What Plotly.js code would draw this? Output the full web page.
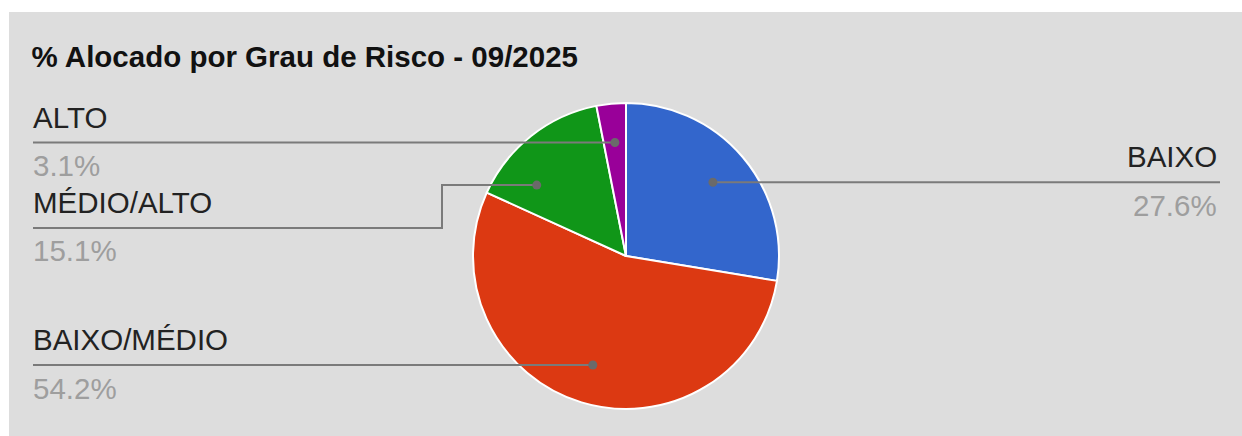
<!DOCTYPE html>
<html>
<head>
<meta charset="utf-8">
<script src="https://cdn.plot.ly/plotly-3.0.1.min.js"></script>
<style>
  html, body { margin: 0; padding: 0; background: #ffffff; width: 1242px; height: 436px; overflow: hidden; }
  #chart { position: absolute; left: 9px; top: 12px; width: 1233px; height: 424px; }
</style>
</head>
<body>
<div id="chart"></div>
<script>
// ---- data ----
const categories = ['BAIXO', 'BAIXO/MÉDIO', 'MÉDIO/ALTO', 'ALTO'];
const values = [27.6, 54.2, 15.1, 3.1];
const valueLabels = ['27.6%', '54.2%', '15.1%', '3.1%'];
const sliceColors = ['#3366cc', '#dc3912', '#109618', '#990099'];
const chartTitle = '% Alocado por Grau de Risco - 09/2025';

// ---- layout constants (page pixels) ----
const OFFX = 9, OFFY = 12, W = 1233, H = 424;
const CX = 626, CY = 256, R = 153;
const DOT_R = 0.745;
const LEFT_X = 33, RIGHT_TEXT_X = 1217, RIGHT_LINE_X = 1220;
const labelLayout = {
  'BAIXO':       { side: 'right' },
  'BAIXO/MÉDIO': { side: 'left' },
  'MÉDIO/ALTO':  { side: 'left', lineY: 228, elbowX: 442, angleShift: -13.2 },
  'ALTO':        { side: 'left' }
};
const FONT = 'Arial, "Liberation Sans", sans-serif';
const FS = 29.5;

const px = X => (X - OFFX) / W;
const py = Y => 1 - (Y - OFFY) / H;

const total = values.reduce((a, b) => a + b, 0);
const shapes = [];
const annotations = [];
let cum = 0;
categories.forEach((cat, i) => {
  const cfg = labelLayout[cat];
  const mid = (cum + values[i] / 2) / total * 360 + (cfg.angleShift || 0);
  cum += values[i];
  const a = mid * Math.PI / 180;
  const dx = CX + R * DOT_R * Math.sin(a);
  const dy = CY - R * DOT_R * Math.cos(a);
  const lineY = cfg.lineY !== undefined ? cfg.lineY : dy;
  let path;
  if (cfg.side === 'left') {
    if (cfg.elbowX !== undefined) {
      path = `M ${px(LEFT_X)} ${py(lineY)} L ${px(cfg.elbowX)} ${py(lineY)} L ${px(cfg.elbowX)} ${py(dy)} L ${px(dx)} ${py(dy)}`;
    } else {
      path = `M ${px(LEFT_X)} ${py(lineY)} L ${px(dx)} ${py(dy)}`;
    }
  } else {
    path = `M ${px(dx)} ${py(dy)} L ${px(RIGHT_LINE_X)} ${py(lineY)}`;
  }
  shapes.push({ type: 'path', xref: 'paper', yref: 'paper', path: path,
                line: { color: '#7a7a7a', width: 2 } });
  shapes.push({ type: 'circle', xref: 'paper', yref: 'paper', xsizemode: 'pixel', ysizemode: 'pixel',
                xanchor: px(dx), yanchor: py(dy), x0: -4.5, x1: 4.5, y0: -4.5, y1: 4.5,
                fillcolor: '#6a6a6a', line: { width: 0 } });
  const tx = cfg.side === 'left' ? px(LEFT_X - 2) : px(RIGHT_TEXT_X + 2);
  const xa = cfg.side === 'left' ? 'left' : 'right';
  annotations.push({ xref: 'paper', yref: 'paper', x: tx, y: py(lineY - 25.5), xanchor: xa, yanchor: 'middle',
                     text: cat, showarrow: false, font: { family: FONT, size: FS, color: '#222222' } });
  annotations.push({ xref: 'paper', yref: 'paper', x: tx, y: py(lineY + 23), xanchor: xa, yanchor: 'middle',
                     text: valueLabels[i], showarrow: false, font: { family: FONT, size: FS, color: '#9e9e9e' } });
});

const trace = {
  type: 'pie',
  labels: categories,
  values: values,
  sort: false,
  direction: 'clockwise',
  rotation: 0,
  textinfo: 'none',
  hoverinfo: 'skip',
  marker: { colors: sliceColors, line: { color: '#ffffff', width: 2 } },
  domain: { x: [px(CX - R), px(CX + R)], y: [py(CY + R), py(CY - R)] }
};

const layout = {
  width: W, height: H,
  margin: { l: 0, r: 0, t: 0, b: 0 },
  paper_bgcolor: '#dddddd',
  plot_bgcolor: '#dddddd',
  showlegend: false,
  title: { text: '<b>' + chartTitle + '</b>', x: px(LEFT_X - 1.5), xanchor: 'left', xref: 'paper',
           y: py(57), yanchor: 'middle', yref: 'container',
           font: { family: FONT, size: FS, color: '#111111' } },
  shapes: shapes,
  annotations: annotations
};

Plotly.newPlot('chart', [trace], layout, { displayModeBar: false, staticPlot: true });
</script>
</body>
</html>
